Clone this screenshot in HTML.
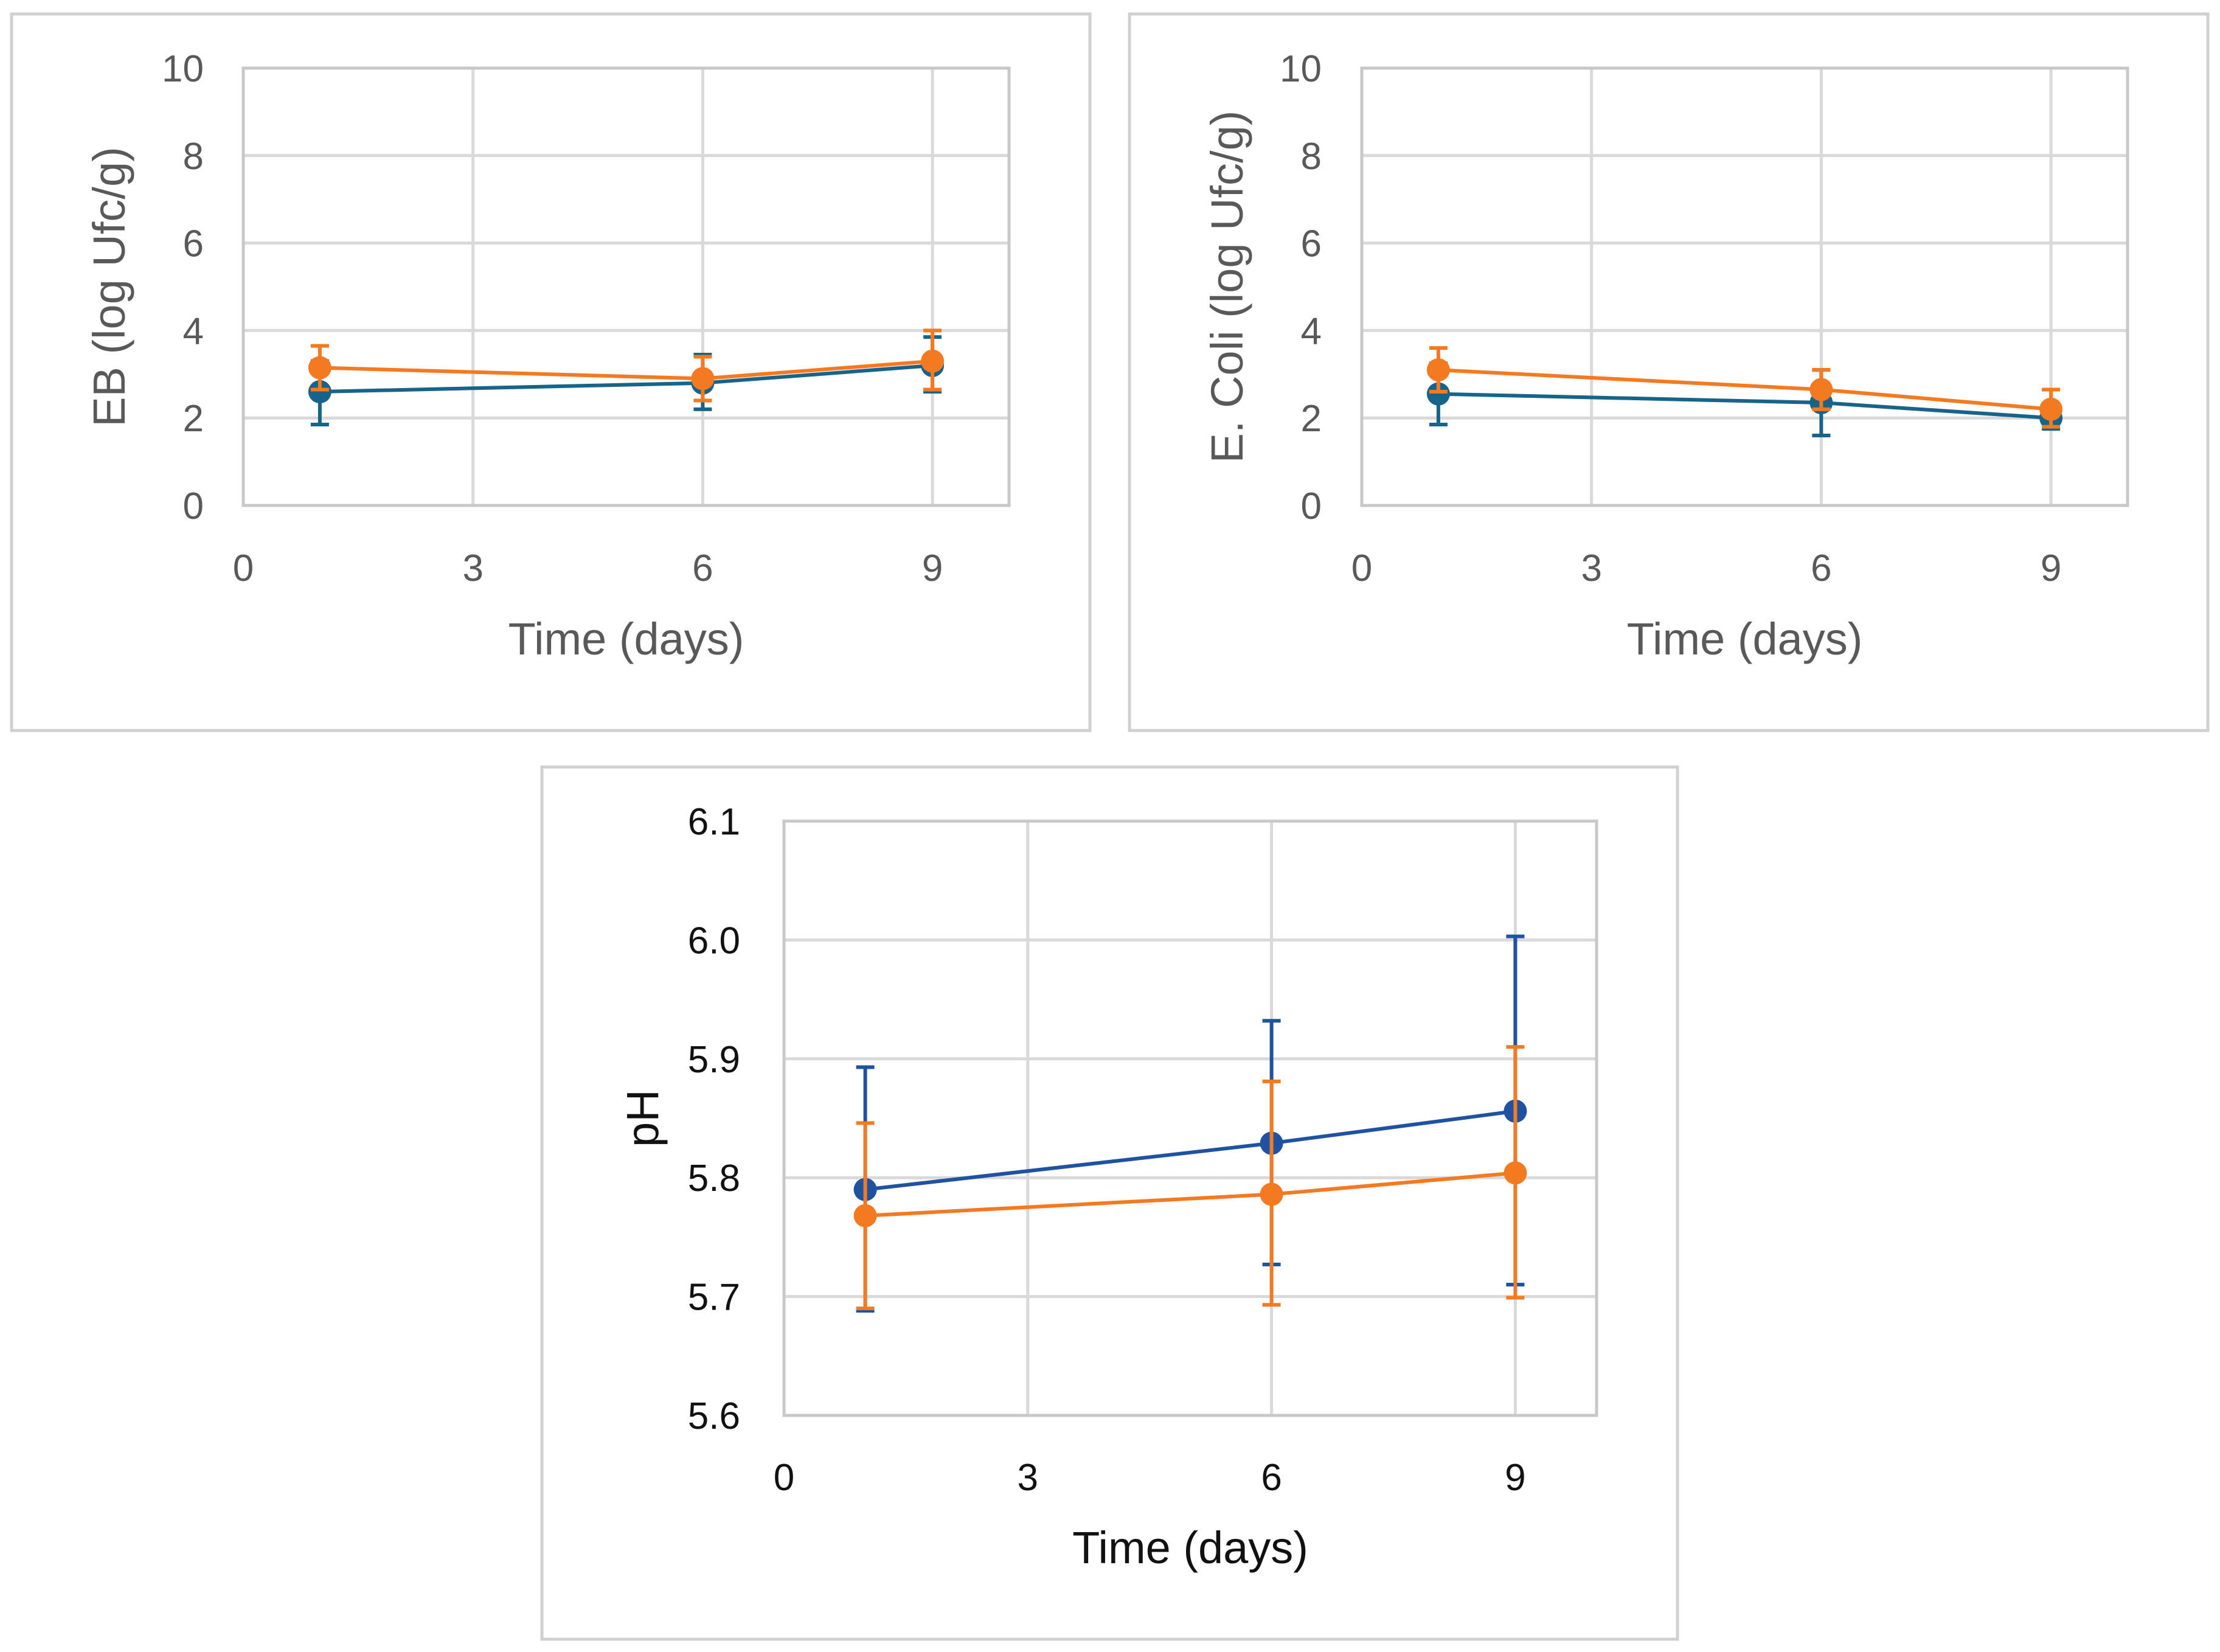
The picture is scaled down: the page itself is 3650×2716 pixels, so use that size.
<!DOCTYPE html>
<html><head><meta charset="utf-8">
<style>
html,body{margin:0;padding:0;background:#fff;}
svg{display:block;}
text{font-family:"Liberation Sans",sans-serif;}
</style></head>
<body>
<svg id="fig" width="3650" height="2716" viewBox="0 0 3650 2716" xmlns="http://www.w3.org/2000/svg"></svg>
<script>
// ---- data ----
const xDays = [1, 6, 9];
const xTicks = [0, 3, 6, 9];
const countTicks = [0, 2, 4, 6, 8, 10];
const phTicks = [5.6, 5.7, 5.8, 5.9, 6.0, 6.1];

const ebBlue = [2.6, 2.8, 3.2];
const ebBlueLo = [1.85, 2.2, 2.6];
const ebBlueHi = [3.3, 3.45, 3.85];
const ebOrange = [3.15, 2.9, 3.3];
const ebOrangeLo = [2.65, 2.4, 2.65];
const ebOrangeHi = [3.65, 3.4, 4.0];

const ecBlue = [2.55, 2.35, 2.0];
const ecBlueLo = [1.85, 1.6, 1.75];
const ecBlueHi = [3.25, 3.1, 2.3];
const ecOrange = [3.1, 2.65, 2.2];
const ecOrangeLo = [2.6, 2.2, 1.8];
const ecOrangeHi = [3.6, 3.1, 2.65];

const phBlue = [5.79, 5.829, 5.856];
const phBlueLo = [5.688, 5.727, 5.71];
const phBlueHi = [5.893, 5.932, 6.003];
const phOrange = [5.768, 5.786, 5.804];
const phOrangeLo = [5.69, 5.693, 5.699];
const phOrangeHi = [5.846, 5.881, 5.91];

const NS = "http://www.w3.org/2000/svg";
const svg = document.getElementById("fig");
function mk(tag, attrs, parent) {
  const e = document.createElementNS(NS, tag);
  for (const k in attrs) e.setAttribute(k, attrs[k]);
  (parent || svg).appendChild(e);
  return e;
}

function panel(cfg) {
  const g = mk("g", {});
  
  
  const box = mk("rect", {x: cfg.box[0], y: cfg.box[1], width: cfg.box[2], height: cfg.box[3], fill: "#fff", stroke: "#d0d0d0", "stroke-width": 5}, g);
  
  
  const [L, T, R, B] = cfg.plot;
  const sx = v => L + (v - 0) / 10 * (R - L);
  const sy = v => B - (v - cfg.ymin) / (cfg.ymax - cfg.ymin) * (B - T);
  cfg.yticks.forEach(t => {
    const l = mk("line", {x1: L, x2: R, y1: sy(t), y2: sy(t), stroke: "#d9d9d9", "stroke-width": 5}, g);
    
    
    const tx = mk("text", {x: cfg.ylabX, y: sy(t) + 22, "text-anchor": "end", "font-size": 62, fill: cfg.textColor}, g);
    tx.textContent = cfg.fmt(t);
    
    
  });
  xTicks.forEach(t => {
    const l = mk("line", {x1: sx(t), x2: sx(t), y1: T, y2: B, stroke: "#d9d9d9", "stroke-width": 5}, g);
    
    
    const tx = mk("text", {x: sx(t), y: cfg.xlabY, "text-anchor": "middle", "font-size": 62, fill: cfg.textColor}, g);
    tx.textContent = String(t);
    
    
  });
  const frame = mk("rect", {x: L, y: T, width: R - L, height: B - T, fill: "none", stroke: "#c8c8c8", "stroke-width": 5}, g);
  
  
  const xt = mk("text", {x: (L + R) / 2, y: cfg.xTitleY, "text-anchor": "middle", "font-size": 74, fill: cfg.textColor}, g);
  xt.textContent = "Time (days)";
  
  
  const cy = (T + B) / 2;
  const yt = mk("text", {x: cfg.yTitleX, y: cy, "text-anchor": "middle", "font-size": 74, fill: cfg.textColor, transform: `rotate(-90 ${cfg.yTitleX} ${cy})`}, g);
  yt.textContent = cfg.ytitle;
  
  

  cfg.series.forEach(s => {
    const sg = mk("g", {}, g);
    
    
    const pts = xDays.map((d, i) => sx(d) + "," + sy(s.v[i])).join(" ");
    const pl = mk("polyline", {points: pts, fill: "none", stroke: s.color, "stroke-width": 6}, sg);
    
    
    xDays.forEach((d, i) => {
      const x = sx(d);
      const eb = mk("path", {d: `M${x},${sy(s.lo[i])}V${sy(s.hi[i])}M${x-15},${sy(s.lo[i])}H${x+15}M${x-15},${sy(s.hi[i])}H${x+15}`, stroke: s.color, "stroke-width": 6, fill: "none"}, sg);
      
      
    });
    xDays.forEach((d, i) => {
      const c = mk("circle", {cx: sx(d), cy: sy(s.v[i]), r: 19, fill: s.color}, sg);
      
      
    });
  });
}

const teal = "#17638a", orange = "#f47a22", blue = "#1f52a0";
const fmtInt = t => String(t);
const fmt1 = t => t.toFixed(1);

panel({name: "eb-chart", box: [19, 23, 1773, 1178], plot: [400, 112, 1659, 831], ymin: 0, ymax: 10,
  yticks: countTicks, fmt: fmtInt, ylabX: 335, xlabY: 955, xTitleY: 1076, yTitleX: 205, ytitle: "EB (log Ufc/g)", textColor: "#595959",
  series: [
    {name: "eb-series-a", color: teal, v: ebBlue, lo: ebBlueLo, hi: ebBlueHi},
    {name: "eb-series-b", color: orange, v: ebOrange, lo: ebOrangeLo, hi: ebOrangeHi}
  ]});

panel({name: "ecoli-chart", box: [1857, 23, 1773, 1178], plot: [2239, 112, 3498, 831], ymin: 0, ymax: 10,
  yticks: countTicks, fmt: fmtInt, ylabX: 2173, xlabY: 955, xTitleY: 1076, yTitleX: 2043, ytitle: "E. Coli (log Ufc/g)", textColor: "#595959",
  series: [
    {name: "ecoli-series-a", color: teal, v: ecBlue, lo: ecBlueLo, hi: ecBlueHi},
    {name: "ecoli-series-b", color: orange, v: ecOrange, lo: ecOrangeLo, hi: ecOrangeHi}
  ]});

panel({name: "ph-chart", box: [891, 1261, 1867, 1434], plot: [1289, 1350, 2625, 2327], ymin: 5.6, ymax: 6.1,
  yticks: phTicks, fmt: fmt1, ylabX: 1217, xlabY: 2450, xTitleY: 2570, yTitleX: 1082, ytitle: "pH", textColor: "#111",
  series: [
    {name: "ph-series-a", color: blue, v: phBlue, lo: phBlueLo, hi: phBlueHi},
    {name: "ph-series-b", color: orange, v: phOrange, lo: phOrangeLo, hi: phOrangeHi}
  ]});
</script>
</body></html>
